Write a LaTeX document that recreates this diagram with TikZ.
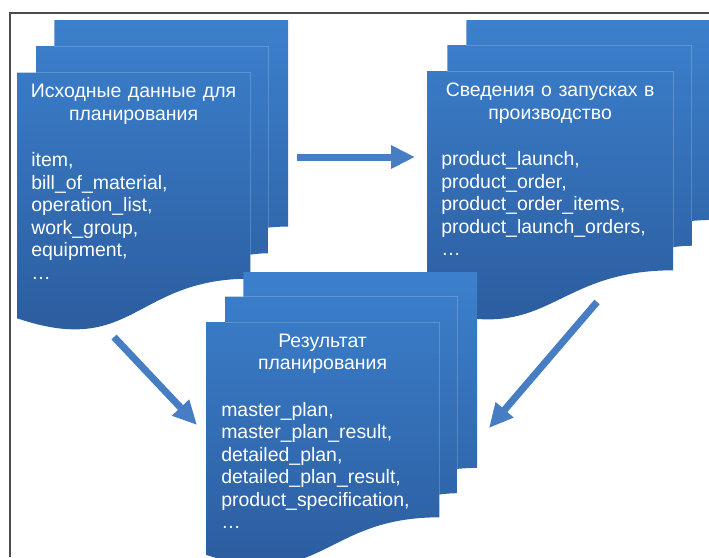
\documentclass[tikz,border=0pt]{standalone}
\usepackage{fontspec}
\setmainfont{Liberation Sans}
\usetikzlibrary{arrows.meta}
\definecolor{docTop}{HTML}{3C80CD}
\definecolor{docBottom}{HTML}{2A5A9B}
\definecolor{arrowBlue}{HTML}{467DC3}
\def\multidoc(#1,#2)(#3:#4){%
	\begin{scope}[shift={(#1,#2)}, xscale=#3, yscale=#4]
		\shade[top color=docTop, bottom color=docBottom] (0,0.17014) -- (0.07093,0.17014) -- (0.07093,0.08403) -- (0.13759,0.08403) -- (0.13759,0) -- (1,0) -- (1,0.66630) .. controls (0.96296,0.66630) and (0.92593,0.66977) .. (0.92593,0.66977) -- (0.92593,0.75241) .. controls (0.89343,0.75241) and (0.86088,0.75704) .. (0.86088,0.75704) -- (0.86088,0.83435) .. controls (0.43046,0.83435) and (0.43046,1.08991) .. (0,0.96213) -- cycle;
		\draw[sheetline] (0.07093,0.17014) -- (0.86088,0.17014) -- (0.86088,0.75704);
		\draw[sheetline] (0.13759,0.08403) -- (0.92593,0.08403) -- (0.92593,0.66977);
	\end{scope}%
}

\begin{document}
\begin{tikzpicture}[x=0.75pt, y=-0.75pt,
		sheetline/.style={line width=0.5pt, white, opacity=0.18},
		doctitle/.style={inner sep=0, anchor=base, align=center, text=white, font=\fontsize{14.6pt}{16.9pt}\selectfont},
		doclist/.style={inner sep=0, anchor=base west, align=left, text width=200pt, text=white, font=\fontsize{14.6pt}{16.9pt}\selectfont},
		flowarrow/.style={arrowBlue, line width=5.25pt, -{Triangle[length=18pt, width=16.5pt]}}]
			%%%%% START %%%%%
			\useasboundingbox (0,0) rectangle (709,557);
			\clip (0,0) rectangle (709,557);
			
			\draw[line width=0.9pt, black!70] (709,13) -- (10,13) -- (10,557);
			
			% source data
			\multidoc(17,20)(271:310)
			\node[doctitle, text width=175pt] (srcTitle) at (133.6,97.5) {Исходные данные для\\планирования};
			\node[doclist] (srcList) at (31,166.5) {item,\\bill\_of\_material,\\operation\_list,\\work\_group,\\equipment,\\…};
			
			% launches
			\multidoc(427,20)(286:300)
			\node[doctitle, text width=184pt] (launchTitle) at (550.1,96.5) {Сведения о запусках в\\производство};
			\node[doclist] (launchList) at (441,165.5) {product\_launch,\\product\_order,\\product\_order\_items,\\product\_launch\_orders,\\…};
			
			% result
			\multidoc(206,272)(271:294)
			\node[doctitle, text width=175pt] (resTitle) at (322.6,347) {Результат\\планирования};
			\node[doclist] (resList) at (221,416) {master\_plan,\\master\_plan\_result,\\detailed\_plan,\\detailed\_plan\_result,\\product\_specification,\\…};
			
			\coordinate (hArrS) at (297,157);
			\coordinate (hArrE) at (415,157);
			\coordinate (lArrS) at (114,337);
			\coordinate (lArrE) at (197,425);
			\coordinate (rArrS) at (597,302);
			\coordinate (rArrE) at (489,428);
			\draw[flowarrow] (hArrS) -- (hArrE);
			\draw[flowarrow] (lArrS) -- (lArrE);
			\draw[flowarrow] (rArrS) -- (rArrE);
			%%%%% END %%%%%
		\end{tikzpicture}
\end{document}
